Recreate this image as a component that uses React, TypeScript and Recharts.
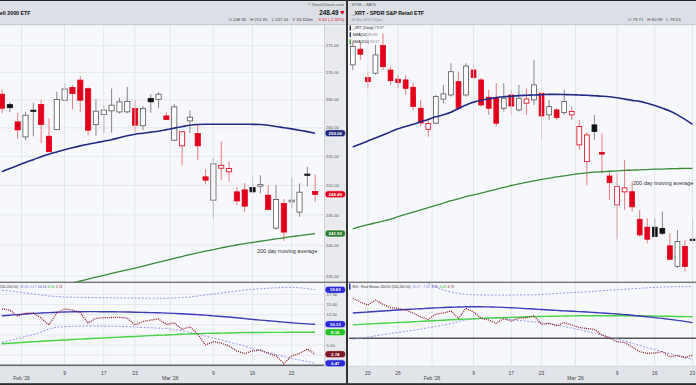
import React from 'react';
import { ComposedChart, Bar, Line, XAxis, YAxis, CartesianGrid, ReferenceLine } from 'recharts';

const FONT = '"Liberation Sans", Arial, Helvetica, sans-serif';

// ---------------- IWM (left panel) ----------------
const iwmDates = ["01-28","01-29","01-30","02-02","02-03","02-04","02-05","02-06","02-09","02-10","02-11","02-12","02-13","02-17","02-18","02-19","02-20","02-23","02-24","02-25","02-26","02-27","03-02","03-03","03-04","03-05","03-06","03-09","03-10","03-11","03-12","03-13","03-16","03-17","03-18","03-19","03-20","03-23","03-24","03-25","03-26"];
const iwmOpen = [266.03,264.15,261.06,258.40,263.10,264.17,258.52,259.71,264.95,267.25,268.59,267.03,260.56,262.39,263.03,262.83,262.85,263.45,260.38,265.26,265.10,262.12,257.82,256.83,261.24,258.99,251.46,247.50,252.95,252.32,248.90,249.24,249.64,249.87,248.34,242.83,246.95,247.21,245.49,251.85,248.95];
const iwmHigh = [266.94,264.60,262.70,262.85,264.50,264.95,261.66,266.49,267.98,267.67,269.32,267.30,265.08,264.05,267.07,265.40,267.36,264.95,263.87,266.03,266.40,262.79,264.23,259.35,263.10,260.47,252.78,254.76,257.64,254.04,249.75,250.38,251.46,251.75,250.04,250.10,247.70,251.37,250.33,253.18,251.85];
const iwmLow = [262.61,262.80,258.12,257.82,258.50,257.30,255.72,259.59,264.86,263.33,262.79,258.70,258.60,259.06,259.15,262.52,262.61,259.24,259.59,262.70,263.51,261.36,257.73,253.47,259.06,254.33,250.21,244.44,250.89,250.60,246.66,245.54,248.68,248.68,245.82,242.50,240.69,246.16,244.71,249.87,247.16];
const iwmClose = [263.51,263.60,259.64,262.25,263.00,260.60,255.81,265.08,266.98,266.16,264.95,259.59,262.97,263.15,264.05,264.65,264.70,260.47,263.45,264.65,266.03,261.49,263.74,259.30,261.90,256.83,250.89,253.69,253.44,252.90,247.37,246.49,248.90,250.13,245.94,247.62,242.17,247.50,248.85,251.81,248.49];
const iwmSma50 = [252.35,252.90,253.42,253.94,254.42,254.94,255.37,255.77,256.16,256.51,256.83,257.12,257.38,257.64,257.91,258.26,258.61,258.88,259.05,259.24,259.41,259.68,259.95,260.21,260.47,260.60,260.65,260.65,260.65,260.65,260.65,260.65,260.62,260.60,260.47,260.24,260.03,259.82,259.59,259.33,259.06];
const iwmSma200 = [231.13,231.44,231.75,232.05,232.37,232.68,232.99,233.30,233.61,233.93,234.23,234.54,234.84,235.13,235.44,235.74,236.02,236.28,236.60,236.92,237.25,237.55,237.86,238.17,238.48,238.77,239.05,239.31,239.58,239.81,240.05,240.26,240.46,240.66,240.85,241.05,241.23,241.41,241.58,241.76,241.93];
const iwmRmUpper = [18.55,18.33,18.09,17.84,17.60,17.35,17.10,16.98,16.85,16.80,16.75,16.72,16.70,16.68,16.65,16.62,16.60,16.58,16.56,16.55,16.55,16.55,16.60,16.73,16.85,17.10,17.35,17.60,17.84,18.09,18.33,18.58,18.75,18.90,19.02,19.12,19.20,19.25,19.12,18.95,18.63];
const iwmRmLower = [5.62,6.11,6.60,7.10,7.59,8.21,8.95,9.37,9.52,9.62,9.64,9.65,9.65,9.64,9.62,9.60,9.55,9.44,9.32,9.25,9.15,9.07,8.83,8.51,8.09,7.72,7.22,6.73,6.23,5.74,5.25,4.75,4.14,3.64,3.15,2.65,2.16,1.67,1.30,0.93,0.47];
const iwmRmSlow = [12.21,12.36,12.50,12.65,12.80,12.90,13.00,13.07,13.15,13.20,13.22,13.23,13.23,13.22,13.20,13.18,13.15,13.10,13.05,13.00,12.95,12.88,12.80,12.70,12.60,12.50,12.38,12.20,12.05,11.90,11.72,11.52,11.33,11.15,11.00,10.83,10.65,10.48,10.33,10.21,10.13];
const iwmRmFast = [5.32,5.44,5.57,5.69,5.81,5.91,6.04,6.14,6.23,6.36,6.46,6.56,6.65,6.75,6.85,6.95,7.02,7.12,7.22,7.32,7.40,7.47,7.57,7.64,7.72,7.79,7.86,7.90,7.94,7.98,8.02,8.06,8.08,8.10,8.11,8.12,8.13,8.14,8.15,8.15,8.16];
const iwmRmPrice = [13.89,13.64,12.16,12.83,12.90,11.67,9.94,12.90,13.89,13.64,13.02,10.43,11.59,11.74,11.79,11.84,11.67,9.94,10.75,11.17,11.42,10.06,10.51,8.83,9.52,7.72,5.00,5.81,5.49,4.75,3.52,2.90,3.52,3.77,2.90,2.36,0.43,2.28,2.90,4.01,2.74];
const iwmTicks = ["02-02","02-09","02-17","02-23","03-02","03-09","03-16","03-23"];
const iwmTickLabels = ["Feb '26","9","17","23","Mar '26","9","16","23"];
const iwmPriceTicks = [235,240,245,250,255,260,265,270,275];
const iwmPriceDomain = [234.07, 278.88];
const iwmRmTicks = [0,2.5,5,7.5,10,12.5,15,17.5];
const iwmRmShown = [5,12.5,15,17.5];
const iwmRmDomain = [-0.185, 20.31];

// ---------------- XRT (right panel) ----------------
const xrtDates = ["01-15","01-16","01-20","01-21","01-22","01-23","01-26","01-27","01-28","01-29","01-30","02-02","02-03","02-04","02-05","02-06","02-09","02-10","02-11","02-12","02-13","02-17","02-18","02-19","02-20","02-23","02-24","02-25","02-26","02-27","03-02","03-03","03-04","03-05","03-06","03-09","03-10","03-11","03-12","03-13","03-16","03-17","03-18","03-19","03-20","03-23"];
const xrtOpen = [90.79,91.88,89.92,90.22,92.13,90.44,89.81,89.76,89.26,87.85,86.46,86.86,88.46,88.74,89.64,88.74,90.44,89.76,88.59,88.52,87.85,88.74,87.74,88.19,88.41,88.86,87.41,87.74,87.56,87.41,85.44,84.36,86.75,84.95,83.45,81.64,82.45,82.46,80.75,80.27,80.27,80.20,79.14,77.92,79.10,79.53];
const xrtHigh = [92.40,92.29,90.32,92.18,92.99,90.67,90.10,90.10,89.54,88.41,87.19,88.74,89.42,90.90,90.32,90.90,90.79,89.90,89.08,89.54,89.54,89.08,89.42,89.19,91.13,88.90,88.41,87.87,89.08,87.96,87.08,86.29,87.41,86.20,83.72,83.62,84.47,83.09,81.33,80.81,80.81,81.23,79.90,80.10,79.50,80.71];
const xrtLow = [90.44,91.13,89.19,90.10,90.44,89.42,89.19,88.74,87.74,86.64,85.98,86.81,88.19,88.63,87.74,88.63,89.76,87.96,87.41,86.64,87.63,87.41,87.63,87.41,88.07,85.76,87.08,87.08,87.41,87.08,85.12,82.86,85.76,83.62,81.95,79.54,81.33,81.23,79.70,79.30,79.68,79.80,78.30,77.82,77.62,79.38];
const xrtClose = [92.06,91.53,89.64,91.48,90.67,89.71,89.58,89.19,87.96,86.88,86.84,88.63,88.81,90.32,87.85,90.71,89.92,88.07,87.85,86.86,88.52,88.00,88.52,88.47,89.42,87.34,87.96,87.23,88.30,87.63,86.64,86.09,86.31,84.85,83.03,82.78,82.70,81.52,79.80,79.54,79.70,79.90,78.34,79.40,77.92,79.48];
const xrtSma50 = [85.31,85.50,85.70,85.89,86.09,86.29,86.49,86.64,86.79,86.95,87.11,87.28,87.42,87.58,87.84,88.07,88.26,88.38,88.49,88.56,88.62,88.66,88.70,88.72,88.74,88.76,88.78,88.78,88.77,88.76,88.74,88.72,88.69,88.66,88.62,88.55,88.46,88.38,88.31,88.18,88.03,87.85,87.67,87.41,87.11,86.78];
const xrtSma200 = [80.17,80.30,80.42,80.53,80.64,80.77,80.91,81.05,81.19,81.33,81.47,81.61,81.75,81.90,82.02,82.15,82.26,82.37,82.49,82.61,82.73,82.85,82.95,83.04,83.14,83.23,83.31,83.39,83.46,83.53,83.60,83.65,83.69,83.72,83.75,83.77,83.80,83.82,83.84,83.86,83.88,83.89,83.91,83.92,83.93,83.93];
const xrtRmUpper = [null,null,null,null,null,null,null,null,null,null,16.00,14.91,14.04,13.46,13.02,12.79,12.67,12.59,12.58,12.57,12.57,12.58,12.60,12.62,12.65,12.73,12.88,13.02,13.17,13.28,13.37,13.52,13.66,13.84,13.98,14.13,14.27,14.39,14.53,14.68,14.80,14.91,14.97,15.00,15.00,15.00];
const xrtRmLower = [-0.28,0.06,0.38,0.73,1.05,1.40,1.72,2.03,2.35,2.70,3.08,3.46,3.84,4.30,4.85,5.38,5.58,5.81,5.84,5.81,5.67,5.44,5.20,5.00,4.74,4.51,4.27,3.84,3.40,2.97,2.53,1.98,1.45,0.90,0.38,-0.20,-0.81,-1.45,-2.06,-2.70,-3.28,-3.90,-4.48,-5.09,-5.61,-6.08];
const xrtRmSlow = [7.35,7.50,7.65,7.79,7.94,8.08,8.23,8.37,8.49,8.60,8.72,8.84,8.95,9.04,9.10,9.16,9.19,9.16,9.13,9.07,8.98,8.87,8.78,8.63,8.52,8.37,8.23,8.11,7.99,7.88,7.76,7.65,7.50,7.35,7.21,7.06,6.89,6.72,6.48,6.25,6.02,5.78,5.52,5.23,4.94,4.56];
const xrtRmFast = [3.92,4.04,4.16,4.27,4.36,4.48,4.59,4.68,4.80,4.91,5.03,5.15,5.26,5.38,5.49,5.58,5.70,5.81,5.90,5.96,6.02,6.10,6.16,6.25,6.31,6.34,6.40,6.42,6.48,6.51,6.54,6.57,6.57,6.57,6.57,6.57,6.57,6.57,6.54,6.51,6.48,6.42,6.40,6.34,6.31,6.28];
const xrtRmPrice = [11.72,10.55,9.68,11.13,9.88,8.90,8.72,8.23,7.35,6.19,5.52,6.98,7.35,7.94,5.81,8.72,7.65,5.81,5.32,4.36,5.76,5.03,5.90,5.99,6.57,4.07,4.36,3.66,4.53,3.87,3.14,2.85,2.62,0.96,0.09,-0.99,-1.22,-2.53,-3.90,-4.36,-4.27,-3.90,-5.35,-5.00,-5.58,-4.85];
const xrtTicks = ["01-20","01-26","02-02","02-09","02-17","02-23","03-02","03-09","03-16","03-23"];
const xrtTickLabels = ["20","26","Feb '26","9","17","23","Mar '26","9","16","23"];
const xrtPriceTicks = [78,79,80,81,82,83,84,85,86,87,88,89,90,91,92,93];
const xrtPriceDomain = [77.0, 93.58];
const xrtRmTicks = [-7.5,-5,-2.5,0,2.5,5,7.5,10,12.5,15];
const xrtRmDomain = [-8.05, 16.08];

// ---------------- build tables ----------------
const buildPrice = (dates: string[], o: number[], h: number[], l: number[], c: number[], s50: number[], s200: number[]) =>
  dates.map((d, i) => ({ d, open: o[i], high: h[i], low: l[i], close: c[i], prev: i > 0 ? c[i - 1] : o[i], sma50: s50[i], sma200: s200[i] }));
const buildRm = (dates: string[], up: (number | null)[], lo: number[], slow: number[], fast: number[], rm: number[]) =>
  dates.map((d, i) => ({ d, up: up[i], lo: lo[i], slow: slow[i], fast: fast[i], rm: rm[i] }));

const iwmPrice = buildPrice(iwmDates, iwmOpen, iwmHigh, iwmLow, iwmClose, iwmSma50, iwmSma200);
const iwmRm = buildRm(iwmDates, iwmRmUpper, iwmRmLower, iwmRmSlow, iwmRmFast, iwmRmPrice);
const xrtPrice = buildPrice(xrtDates, xrtOpen, xrtHigh, xrtLow, xrtClose, xrtSma50, xrtSma200);
const xrtRm = buildRm(xrtDates, xrtRmUpper, xrtRmLower, xrtRmSlow, xrtRmFast, xrtRmPrice);

const last = (a: any[]) => a[a.length - 1];

// ---------------- render helpers ----------------
const Candle = (props: any) => {
  const { x, y, width, height, payload } = props;
  if (x == null || y == null || !payload) return <g />;
  const top = Math.min(y, y + height);
  const bot = Math.max(y, y + height);
  const lh = Math.log(payload.high);
  const ll = Math.log(payload.low);
  const py = (v: number) => (lh - ll < 1e-9 ? top : top + ((bot - top) * (lh - Math.log(v))) / (lh - ll));
  const hollow = payload.close >= payload.open;
  const red = payload.close < payload.prev;
  let bt = Math.min(py(payload.open), py(payload.close));
  let bb = Math.max(py(payload.open), py(payload.close));
  if (bb - bt < 1.2) { const m = (bt + bb) / 2; bt = m - 0.6; bb = m + 0.6; }
  const cx = x + width / 2;
  const col = red ? '#e2001a' : '#111111';
  const wick = red ? '#e45a63' : '#6a6a6a';
  return (
    <g>
      <line x1={cx} x2={cx} y1={top} y2={bot} stroke={wick} strokeWidth={0.8} />
      <rect x={x + 0.4} y={bt} width={width - 0.8} height={bb - bt} fill={hollow ? '#ffffff' : col} stroke={hollow ? (red ? '#e2001a' : '#555555') : col} strokeWidth={0.8} />
    </g>
  );
};

const badge = (text: string, fill: string, fg = '#ffffff') => (props: any) => {
  const vb = props.viewBox || {};
  const bx = (vb.x || 0) + (vb.width || 0) + 1;
  const by = vb.y || 0;
  return (
    <g>
      <rect x={bx} y={by - 3.5} width={20.5} height={7} rx={3} fill={fill} stroke="#ffffff" strokeWidth={0.6} />
      <text x={bx + 10.25} y={by + 1.6} textAnchor="middle" fontSize={4.4} fontWeight={700} fill={fg} fontFamily={FONT}>{text}</text>
    </g>
  );
};

const priceTick = (p: any) => (
  <text x={p.x + 1.8} y={p.y + 1.5} fontSize={4.3} fill="#555" fontFamily={FONT}>{Number(p.payload.value).toFixed(2)}</text>
);
const rmTick = (p: any) =>
  iwmRmShown.indexOf(Number(p.payload.value)) >= 0 ? (
    <text x={p.x + 2.5} y={p.y + 1.5} fontSize={4.3} fill="#555" fontFamily={FONT}>{Number(p.payload.value).toFixed(2)}</text>
  ) : <g />;

const makeXTick = (ticks: string[], labels: string[], band: number) => (p: any) => {
  const i = ticks.indexOf(p.payload.value);
  if (i < 0) return <g />;
  const lab = labels[i];
  const month = lab.indexOf("'") >= 0;
  return (
    <text x={month ? p.x - band / 2 : p.x} y={p.y + (month ? 13.8 : 8.6)} textAnchor="middle" fontSize={5} fill="#444" fontFamily={FONT}>{lab}</text>
  );
};

const vGrid = (ticks: string[], labels: string[]) =>
  ticks.map((t, i) => (
    <ReferenceLine key={'vg' + t} x={t} stroke="#dde1e8" strokeWidth={0.8} position={labels[i].indexOf("'") >= 0 ? 'start' : 'middle'} />
  ));

const GRID = '#e1e4ea';
const NAVY = '#232b86';
const SMA_GREEN = '#3a8a3a';
const RM_DASH = '#8c8ce4';
const RM_BLUE = '#3c3cb8';
const RM_GREEN = '#45d445';
const RM_DOT = '#8c1c2a';

const LW = 348, LPAD = 5, LBAND = (LW - 22 - LPAD) / iwmDates.length;
const RW = 347.3, RBAND = RW / xrtDates.length;

export default function App() {
  return (
    <div style={{ position: 'absolute', left: 0, top: 0, width: 696, height: 385, overflow: 'hidden', background: '#2b2b2b', fontFamily: FONT }}>
      {/* LEFT PANEL */}
      <div style={{ position: 'absolute', left: 0, top: 0, width: 346, height: 385, overflow: 'hidden', background: '#f7f8fb' }}>
        <div style={{ position: 'absolute', left: 0, top: 0, width: 346, height: 25, background: '#dcdfe5', borderBottom: '1px solid #c6cad1', boxSizing: 'border-box' }} />
        <div style={{ position: 'absolute', left: 324, top: 25, width: 22, height: 341, background: '#e8eaee', borderLeft: '1px solid #cdd1d8', boxSizing: 'border-box' }} />
        <div style={{ position: 'absolute', left: 0, top: 366, width: 346, height: 19, background: '#e1e4e9', borderTop: '1px solid #cdd1d8', boxSizing: 'border-box' }} />
        <div style={{ position: 'absolute', left: -2, top: 25 }}>
          <ComposedChart width={LW} height={257} data={iwmPrice} margin={{ top: 0, right: 0, bottom: 0, left: 0 }}>
            <CartesianGrid vertical={false} stroke={GRID} strokeWidth={0.8} />
            <XAxis dataKey="d" scale="band" hide padding={{ left: 0, right: LPAD }} />
            <YAxis orientation="right" width={22} scale="log" domain={iwmPriceDomain} allowDataOverflow ticks={iwmPriceTicks} interval={0}
              tick={priceTick} tickLine={false} axisLine={false} tickSize={0} tickMargin={0} />
            {vGrid(iwmTicks, iwmTickLabels)}
            <Bar dataKey={(r: any) => [r.low, r.high]} barSize={6} shape={Candle} isAnimationActive={false} />
            <Line type="monotone" dataKey="sma200" stroke={SMA_GREEN} strokeWidth={1.3} dot={false} isAnimationActive={false} />
            <Line type="monotone" dataKey="sma50" stroke={NAVY} strokeWidth={1.6} dot={false} isAnimationActive={false} />
            <ReferenceLine y={last(iwmSma50)} strokeOpacity={0} label={badge(last(iwmSma50).toFixed(2), '#1f2a7a')} />
            <ReferenceLine y={last(iwmClose)} strokeOpacity={0} label={badge(last(iwmClose).toFixed(2), '#e2001a')} />
            <ReferenceLine y={last(iwmSma200)} strokeOpacity={0} label={badge(last(iwmSma200).toFixed(2), '#2f7d32')} />
          </ComposedChart>
        </div>
        <div style={{ position: 'absolute', left: -2, top: 283 }}>
          <ComposedChart width={LW} height={100} data={iwmRm} margin={{ top: 0, right: 0, bottom: 0, left: 0 }}>
            <CartesianGrid vertical={false} stroke={GRID} strokeWidth={0.8} />
            <XAxis dataKey="d" scale="band" padding={{ left: 0, right: LPAD }} ticks={iwmTicks} interval={0} height={17}
              tick={makeXTick(iwmTicks, iwmTickLabels, LBAND)} tickLine={false} axisLine={false} tickSize={0} tickMargin={0} />
            <YAxis orientation="right" width={22} domain={iwmRmDomain} allowDataOverflow ticks={iwmRmTicks} interval={0}
              tick={rmTick} tickLine={false} axisLine={false} tickSize={0} tickMargin={0} />
            {vGrid(iwmTicks, iwmTickLabels)}
            <ReferenceLine y={0} stroke="#666" strokeWidth={1.3} />
            <Line type="monotone" dataKey="up" stroke={RM_DASH} strokeWidth={0.9} strokeDasharray="2 1.6" dot={false} isAnimationActive={false} />
            <Line type="monotone" dataKey="lo" stroke={RM_DASH} strokeWidth={0.9} strokeDasharray="2 1.6" dot={false} isAnimationActive={false} />
            <Line type="monotone" dataKey="fast" stroke={RM_GREEN} strokeWidth={1.4} dot={false} isAnimationActive={false} />
            <Line type="monotone" dataKey="slow" stroke={RM_BLUE} strokeWidth={1.4} dot={false} isAnimationActive={false} />
            <Line type="linear" dataKey="rm" stroke={RM_DOT} strokeWidth={1.3} strokeDasharray="1 1.1" dot={false} isAnimationActive={false} />
            <ReferenceLine y={last(iwmRmUpper)} strokeOpacity={0} label={badge(last(iwmRmUpper).toFixed(2), '#2a2ad6')} />
            <ReferenceLine y={last(iwmRmSlow)} strokeOpacity={0} label={badge(last(iwmRmSlow).toFixed(2), '#2a2ad6')} />
            <ReferenceLine y={last(iwmRmFast)} strokeOpacity={0} label={badge(last(iwmRmFast).toFixed(2), '#27c227')} />
            <ReferenceLine y={last(iwmRmPrice)} strokeOpacity={0} label={badge(last(iwmRmPrice).toFixed(2), '#7d1524')} />
            <ReferenceLine y={last(iwmRmLower)} strokeOpacity={0} label={badge(last(iwmRmLower).toFixed(2), '#2a2ad6')} />
          </ComposedChart>
        </div>
      </div>

      {/* RIGHT PANEL */}
      <div style={{ position: 'absolute', left: 348, top: 0, width: 348, height: 385, overflow: 'hidden', background: '#f7f8fb' }}>
        <div style={{ position: 'absolute', left: 0, top: 0, width: 348, height: 25, background: '#dcdfe5', borderBottom: '1px solid #c6cad1', boxSizing: 'border-box' }} />
        <div style={{ position: 'absolute', left: 0, top: 366, width: 348, height: 19, background: '#e1e4e9', borderTop: '1px solid #cdd1d8', boxSizing: 'border-box' }} />
        <div style={{ position: 'absolute', left: 1.3, top: 25 }}>
          <ComposedChart width={RW} height={257} data={xrtPrice} margin={{ top: 0, right: 0, bottom: 0, left: 0 }}>
            <CartesianGrid vertical={false} stroke={GRID} strokeWidth={0.8} />
            <XAxis dataKey="d" scale="band" hide />
            <YAxis orientation="right" width={0} scale="log" domain={xrtPriceDomain} allowDataOverflow ticks={xrtPriceTicks} interval={0}
              tick={false} tickLine={false} axisLine={false} />
            {vGrid(xrtTicks, xrtTickLabels)}
            <Bar dataKey={(r: any) => [r.low, r.high]} barSize={5.6} shape={Candle} isAnimationActive={false} />
            <Line type="monotone" dataKey="sma200" stroke={SMA_GREEN} strokeWidth={1.3} dot={false} isAnimationActive={false} />
            <Line type="monotone" dataKey="sma50" stroke={NAVY} strokeWidth={1.6} dot={false} isAnimationActive={false} />
          </ComposedChart>
        </div>
        <div style={{ position: 'absolute', left: 1.3, top: 283 }}>
          <ComposedChart width={RW} height={100} data={xrtRm} margin={{ top: 0, right: 0, bottom: 0, left: 0 }}>
            <CartesianGrid vertical={false} stroke={GRID} strokeWidth={0.8} />
            <XAxis dataKey="d" scale="band" ticks={xrtTicks} interval={0} height={17}
              tick={makeXTick(xrtTicks, xrtTickLabels, RBAND)} tickLine={false} axisLine={false} tickSize={0} tickMargin={0} />
            <YAxis orientation="right" width={0} domain={xrtRmDomain} allowDataOverflow ticks={xrtRmTicks} interval={0}
              tick={false} tickLine={false} axisLine={false} />
            {vGrid(xrtTicks, xrtTickLabels)}
            <ReferenceLine y={0} stroke="#555" strokeWidth={1.5} />
            <Line type="monotone" dataKey="up" stroke={RM_DASH} strokeWidth={0.9} strokeDasharray="2 1.6" dot={false} isAnimationActive={false} />
            <Line type="monotone" dataKey="lo" stroke={RM_DASH} strokeWidth={0.9} strokeDasharray="2 1.6" dot={false} isAnimationActive={false} />
            <Line type="monotone" dataKey="fast" stroke={RM_GREEN} strokeWidth={1.4} dot={false} isAnimationActive={false} />
            <Line type="monotone" dataKey="slow" stroke={RM_BLUE} strokeWidth={1.4} dot={false} isAnimationActive={false} />
            <Line type="linear" dataKey="rm" stroke={RM_DOT} strokeWidth={1.3} strokeDasharray="1 1.1" dot={false} isAnimationActive={false} />
          </ComposedChart>
        </div>
      </div>

      {/* TEXT OVERLAY + FRAME */}
      <svg width={696} height={385} style={{ position: 'absolute', left: 0, top: 0, pointerEvents: 'none', fontFamily: FONT }}>
        {/* left header */}
        <text x={30.5} y={14.6} textAnchor="end" fontSize={5.3} fontWeight={700} fill="#111">IWM - iShares Russell 2000 ETF</text>
        <text x={344} y={6.4} textAnchor="end" fontSize={4.2} fill="#555">© StockCharts.com</text>
        <text x={338.5} y={15} textAnchor="end" fontSize={6.3} fontWeight={700} fill="#111">248.49</text>
        <path d="M340 11 L344.6 11 L342.3 14.8 Z" fill="#e2001a" />
        <text x={344.5} y={21.4} textAnchor="end" fontSize={4.3} fill="#444">
          <tspan>O 248.95</tspan><tspan dx={4}>H 251.85</tspan><tspan dx={4}>L 247.16</tspan><tspan dx={4}>V 33.324m</tspan><tspan dx={4} fill="#e2001a">-3.32 (-1.32%)</tspan>
        </text>
        <text x={257} y={253} fontSize={5.5} fill="#333">200 day moving average</text>
        <text x={62.5} y={288.2} textAnchor="end" fontSize={3.4} fill="#333">
          <tspan>MG - Real Motion 200/50 (200,200,50)</tspan>
          <tspan dx={1.5} fill="#7f7fe0">18.63</tspan><tspan dx={1.5} fill="#7f7fe0">0.47</tspan><tspan dx={1.5} fill={RM_BLUE}>10.13</tspan><tspan dx={1.5} fill="#2fb82f">8.16</tspan><tspan dx={1.5} fill={RM_DOT}>2.74</tspan>
        </text>

        {/* right header */}
        <text x={351.5} y={6} fontSize={3.8} fill="#555">NYSE + BATS</text>
        <text x={351.5} y={14.6} fontSize={5.3} fontWeight={700} fill="#111">_XRT - SPDR S&amp;P Retail ETF</text>
        <text x={351.5} y={21.3} fontSize={3.3} fill="#888">26-Mar-2026 3:55pm</text>
        <text x={628} y={21.4} fontSize={4.3} fill="#444">
          <tspan>O 79.71</tspan><tspan dx={4}>H 80.99</tspan><tspan dx={4}>L 79.53</tspan>
        </text>
        <rect x={349.6} y={25.6} width={1.3} height={5} fill="#111" />
        <rect x={349.6} y={32.2} width={1.3} height={5} fill={NAVY} />
        <rect x={349.6} y={39.4} width={1.3} height={5} fill={SMA_GREEN} />
        <text x={352.6} y={29.3} fontSize={3.7} fill="#222">_XRT (Daily) <tspan fill="#555">79.97</tspan></text>
        <text x={352.6} y={35.9} fontSize={3.7} fill="#222">SMA(50) <tspan fill="#888">85.89</tspan></text>
        <text x={352.6} y={43.1} fontSize={3.7} fill="#222">SMA(200) <tspan fill="#888">83.97</tspan></text>
        <text x={633} y={184.6} fontSize={5.5} fill="#333">200 day moving average</text>
        <rect x={349} y={283.6} width={1.5} height={6} fill="#2a2ad6" />
        <text x={352.6} y={288.2} fontSize={3.4} fill="#333">
          <tspan>MG - Real Motion 200/50 (200,200,50)</tspan>
          <tspan dx={1.5} fill="#7f7fe0">15.07</tspan><tspan dx={1.5} fill="#7f7fe0">-7.56</tspan><tspan dx={1.5} fill={RM_BLUE}>3.75</tspan><tspan dx={1.5} fill="#2fb82f">4.09</tspan><tspan dx={1.5} fill={RM_DOT}>4.75</tspan>
        </text>

        {/* separators & frame */}
        <rect x={0} y={281.6} width={696} height={1.4} fill="#7a7a7a" />
        <rect x={0} y={0} width={696} height={1} fill="#222" />
        <rect x={0} y={383.2} width={696} height={1.8} fill="#2b2b2b" />
        <rect x={346} y={0} width={2} height={385} fill="#333" />
      </svg>
    </div>
  );
}
